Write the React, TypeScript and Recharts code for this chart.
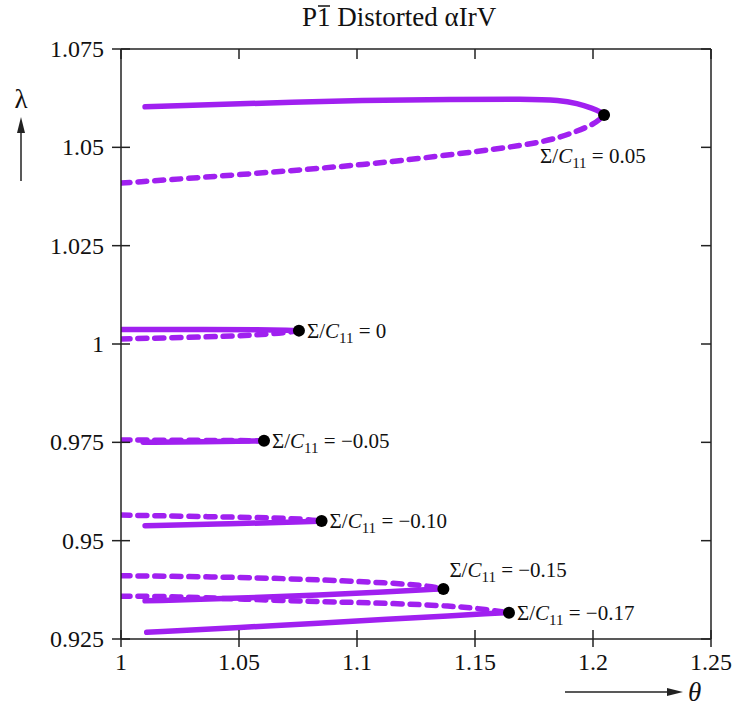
import React from 'react';
import { ComposedChart, Line, Scatter, XAxis, YAxis } from 'recharts';

const xTicks = [1, 1.05, 1.1, 1.15, 1.2, 1.25];
const xTickLabels = ['1', '1.05', '1.1', '1.15', '1.2', '1.25'];
const yTicks = [0.925, 0.95, 0.975, 1, 1.025, 1.05, 1.075];
const yTickLabels = ['0.925', '0.95', '0.975', '1', '1.025', '1.05', '1.075'];

// Σ/C11 = 0.05
const solid005Theta = [1.0102, 1.0517, 1.1055, 1.1394, 1.172, 1.186, 1.1932, 1.2, 1.203, 1.2047];
const solid005Lambda = [1.0603, 1.0611, 1.062, 1.0622, 1.0623, 1.062, 1.0612, 1.0599, 1.0591, 1.0582];
const dashed005Theta = [1.0, 1.0517, 1.1047, 1.1436, 1.172, 1.186, 1.2, 1.203, 1.2047];
const dashed005Lambda = [1.0409, 1.0431, 1.0456, 1.0484, 1.0506, 1.0524, 1.0557, 1.0572, 1.0582];

// Σ/C11 = 0
const solid0Theta = [1.0, 1.0377, 1.0589, 1.0716, 1.0754];
const solid0Lambda = [1.0037, 1.0037, 1.0036, 1.0035, 1.0034];
const dashed0Theta = [1.0, 1.0377, 1.0589, 1.0716, 1.0754];
const dashed0Lambda = [1.0013, 1.0018, 1.0023, 1.003, 1.0034];

// Σ/C11 = -0.05
const solidM005Theta = [1.0094, 1.035, 1.0606];
const solidM005Lambda = [0.975, 0.9751, 0.9754];
const dashedM005Theta = [1.0, 1.035, 1.0606];
const dashedM005Lambda = [0.9756, 0.9755, 0.9754];

// Σ/C11 = -0.10
const solidM010Theta = [1.0102, 1.04, 1.0744, 1.085];
const solidM010Lambda = [0.9538, 0.9542, 0.9547, 0.955];
const dashedM010Theta = [1.0, 1.0377, 1.0744, 1.085];
const dashedM010Lambda = [0.9565, 0.9561, 0.9557, 0.955];

// Σ/C11 = -0.15
const solidM015Theta = [1.0102, 1.0517, 1.0843, 1.1126, 1.1309, 1.1366];
const solidM015Lambda = [0.9347, 0.9354, 0.9362, 0.937, 0.9376, 0.9377];
const dashedM015Theta = [1.0, 1.0518, 1.0872, 1.1126, 1.1309, 1.1366];
const dashedM015Lambda = [0.9411, 0.9407, 0.94, 0.9393, 0.9385, 0.9377];

// Σ/C11 = -0.17
const solidM017Theta = [1.0109, 1.0517, 1.0843, 1.1126, 1.1408, 1.155, 1.1644];
const solidM017Lambda = [0.9267, 0.928, 0.929, 0.9301, 0.9309, 0.9315, 0.9317];
const dashedM017Theta = [1.0, 1.0236, 1.0517, 1.0843, 1.1126, 1.1407, 1.155, 1.1644];
const dashedM017Lambda = [0.9359, 0.9358, 0.9351, 0.9345, 0.9341, 0.9334, 0.9325, 0.9317];

// fold points
const foldSigma = ['0.05', '0', '\u22120.05', '\u22120.10', '\u22120.15', '\u22120.17'];
const foldTheta = [1.2047, 1.0754, 1.0606, 1.085, 1.1366, 1.1644];
const foldLambda = [1.0582, 1.0034, 0.9754, 0.955, 0.9377, 0.9317];
const foldLabelSide = ['below', 'right', 'right', 'right', 'above', 'right'];

const zip = (t: number[], l: number[]) => t.map((x, i) => ({ x, y: l[i] }));

const solidSeries = [
  zip(solid005Theta, solid005Lambda),
  zip(solid0Theta, solid0Lambda),
  zip(solidM005Theta, solidM005Lambda),
  zip(solidM010Theta, solidM010Lambda),
  zip(solidM015Theta, solidM015Lambda),
  zip(solidM017Theta, solidM017Lambda),
];
const dashedSeries = [
  zip(dashed005Theta, dashed005Lambda),
  zip(dashed0Theta, dashed0Lambda),
  zip(dashedM005Theta, dashedM005Lambda),
  zip(dashedM010Theta, dashedM010Lambda),
  zip(dashedM015Theta, dashedM015Lambda),
  zip(dashedM017Theta, dashedM017Lambda),
];
const foldData = foldTheta.map((x, i) => ({ x, y: foldLambda[i], sigma: foldSigma[i], side: foldLabelSide[i] }));

const FONT = '"Liberation Serif", "Times New Roman", serif';
const AXIS = '#222';
const PURPLE = '#A020F0';
const FS = 24;

const LeftTick = (props: any) => {
  const { x, y, payload } = props;
  const i = yTicks.indexOf(payload.value);
  return (
    <g>
      <line x1={x - 9} x2={x + 9} y1={y} y2={y} stroke={AXIS} strokeWidth={1.5} />
      <text x={x - 17} y={y + 8} textAnchor="end" fontFamily={FONT} fontSize={FS} fill="#111">
        {i >= 0 ? yTickLabels[i] : ''}
      </text>
    </g>
  );
};

const BottomTick = (props: any) => {
  const { x, y, payload } = props;
  const i = xTicks.indexOf(payload.value);
  return (
    <g>
      <line x1={x} x2={x} y1={y - 9} y2={y + 8} stroke={AXIS} strokeWidth={1.5} />
      <text x={x} y={y + 31} textAnchor="middle" fontFamily={FONT} fontSize={FS} fill="#111">
        {i >= 0 ? xTickLabels[i] : ''}
      </text>
    </g>
  );
};

const TopTick = (props: any) => {
  const { x, y } = props;
  return <line x1={x} x2={x} y1={y} y2={y + 10} stroke={AXIS} strokeWidth={1.5} />;
};

const RightTick = (props: any) => {
  const { x, y } = props;
  return <line x1={x - 10} x2={x} y1={y} y2={y} stroke={AXIS} strokeWidth={1.5} />;
};

const FoldShape = (props: any) => {
  const { cx, cy, payload } = props;
  let tx = cx + 8;
  let ty = cy + 7;
  if (payload.side === 'below') {
    tx = cx - 64;
    ty = cy + 48;
  } else if (payload.side === 'above') {
    tx = cx + 6;
    ty = cy - 12;
  }
  return (
    <g>
      <circle cx={cx} cy={cy} r={6} fill="#000" />
      <text x={tx} y={ty} fontFamily={FONT} fontSize={21} fill="#111">
        <tspan>Σ/</tspan>
        <tspan fontStyle="italic">C</tspan>
        <tspan fontSize={15} dy={5}>11</tspan>
        <tspan dy={-5}>{' = ' + payload.sigma}</tspan>
      </text>
    </g>
  );
};

export default function App() {
  return (
    <div style={{ position: 'absolute', left: 0, top: 0, width: 735, height: 708, background: '#fff' }}>
      <ComposedChart
        width={735}
        height={708}
        margin={{ top: 39, right: 14, bottom: 39, left: 61 }}
      >
        <XAxis
          xAxisId={0}
          type="number"
          dataKey="x"
          domain={[1, 1.25]}
          ticks={xTicks}
          allowDataOverflow
          height={30}
          tickSize={0}
          tickMargin={0}
          tickLine={false}
          axisLine={{ stroke: AXIS, strokeWidth: 1.5 }}
          tick={<BottomTick />}
          interval={0}
        />
        <XAxis
          xAxisId="top"
          orientation="top"
          type="number"
          dataKey="x"
          domain={[1, 1.25]}
          ticks={xTicks}
          allowDataOverflow
          height={10}
          tickSize={0}
          tickMargin={0}
          tickLine={false}
          axisLine={{ stroke: AXIS, strokeWidth: 1.5 }}
          tick={<TopTick />}
          interval={0}
        />
        <YAxis
          yAxisId={0}
          type="number"
          dataKey="y"
          domain={[0.925, 1.075]}
          ticks={yTicks}
          allowDataOverflow
          width={60}
          tickSize={0}
          tickMargin={0}
          tickLine={false}
          axisLine={{ stroke: AXIS, strokeWidth: 1.5 }}
          tick={<LeftTick />}
          interval={0}
        />
        <YAxis
          yAxisId="right"
          orientation="right"
          type="number"
          dataKey="y"
          domain={[0.925, 1.075]}
          ticks={yTicks}
          allowDataOverflow
          width={10}
          tickSize={0}
          tickMargin={0}
          tickLine={false}
          axisLine={{ stroke: AXIS, strokeWidth: 1.5 }}
          tick={<RightTick />}
          interval={0}
        />
        {dashedSeries.map((d, i) => (
          <Line
            key={'d' + i}
            data={d}
            dataKey="y"
            type="basis"
            stroke={PURPLE}
            strokeWidth={5.5}
            strokeDasharray="9 8"
            strokeLinecap="round"
            dot={false}
            activeDot={false}
            isAnimationActive={false}
          />
        ))}
        {solidSeries.map((d, i) => (
          <Line
            key={'s' + i}
            data={d}
            dataKey="y"
            type="basis"
            stroke={PURPLE}
            strokeWidth={5.5}
            strokeLinecap="round"
            dot={false}
            activeDot={false}
            isAnimationActive={false}
          />
        ))}
        <Scatter data={foldData} dataKey="y" shape={<FoldShape />} isAnimationActive={false} />
      </ComposedChart>
      <svg
        width={735}
        height={708}
        style={{ position: 'absolute', left: 0, top: 0, pointerEvents: 'none' }}
      >
        <text x={302} y={26} textAnchor="start" fontFamily={FONT} fontSize={27} fill="#111">
          P1 Distorted αIrV
        </text>
        <line x1={318} x2={330} y1={6} y2={6} stroke="#111" strokeWidth={1.5} />
        <text x={21} y={108} textAnchor="middle" fontFamily={FONT} fontSize={27} fill="#111">λ</text>
        <line x1={21} y1={181} x2={21} y2={128} stroke="#222" strokeWidth={1.5} />
        <polygon points="21,117 17,133 25,133" fill="#222" />
        <line x1={565} y1={692} x2={672} y2={692} stroke="#222" strokeWidth={1.5} />
        <polygon points="683,692 667,688 667,696" fill="#222" />
        <text x={688} y={701} fontFamily={FONT} fontSize={27} fontStyle="italic" fill="#111">θ</text>
      </svg>
    </div>
  );
}
